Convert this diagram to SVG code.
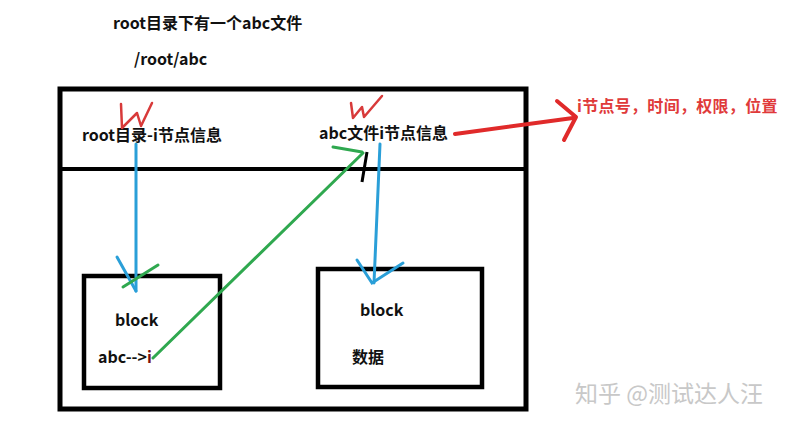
<svg xmlns="http://www.w3.org/2000/svg" width="789" height="426" viewBox="0 0 789 426">
<style>
.t{font-family:"Noto Sans CJK SC","Noto Sans",sans-serif;font-weight:bold;font-size:16px;fill:#111}
.box{fill:none;stroke:#000;stroke-width:5}
.blue{stroke:#2a9fd8;stroke-width:3;fill:none;stroke-linecap:round}
.green{stroke:#2fa84f;stroke-width:3;fill:none;stroke-linecap:round}
.red{stroke:#e02a2a;stroke-width:4;fill:none;stroke-linecap:round;stroke-linejoin:round}
.redthin{stroke:#d83a3a;stroke-width:2.5;fill:none;stroke-linecap:round;stroke-linejoin:round}
</style>
<rect width="789" height="426" fill="#fff"/>
<g id="title">
<text class="t" x="113" y="29">root目录下有一个abc文件</text>
<text class="t" x="134" y="65" font-size="17">/root/abc</text>
</g>
<g id="inode-area">
<rect class="box" x="60" y="89" width="466" height="320"/>
<line x1="60" y1="169" x2="526" y2="169" stroke="#000" stroke-width="4"/>
<text class="t" x="82" y="141" font-size="16.5">root目录-i节点信息</text>
<text class="t" x="319" y="139" font-size="16.5">abc文件i节点信息</text>
<path class="redthin" d="M121,104 L122,128 L137,113 L141,126 L152,103"/>
<path class="redthin" d="M351,103 L353,118 L362,107 L364,117 L382,96"/>
</g>
<g id="block1">
<rect x="84" y="276" width="136" height="112" fill="none" stroke="#000" stroke-width="4.5"/>
<text class="t" x="115" y="326" font-size="16.5">block</text>
<text class="t" x="98" y="363" font-size="16.5">abc--&gt;<tspan fill="#7a1010">i</tspan></text>
</g>
<g id="block2">
<rect x="318" y="269" width="164" height="118" fill="none" stroke="#000" stroke-width="4.5"/>
<text class="t" x="360" y="316" font-size="16.5">block</text>
<text class="t" x="352" y="363" font-size="16.5">数据</text>
</g>
<g id="note">
<text x="577" y="112" font-family="Noto Sans CJK SC,Noto Sans,sans-serif" font-weight="bold" font-size="16" letter-spacing="0.3" fill="#e03a3a">i节点号，时间，权限，位置</text>
</g>
<g id="connectors">
<path class="blue" d="M136,144 L136,291"/>
<path class="blue" d="M117,257 L136,291"/>
<path class="green" d="M123,287 L158,265"/>
<path class="green" d="M153,358 L363,153"/>
<path class="green" d="M333,147 L362,152"/>
<line x1="367" y1="152" x2="362" y2="182" stroke="#000" stroke-width="3"/>
<path class="blue" d="M380,144 L374,283"/>
<path class="blue" d="M357,260 L372,283 L403,263"/>
<path class="red" d="M455,134 L573,118"/>
<path class="red" d="M557,101 L576,117 L564,140"/>
</g>
<g id="watermark">
<text x="575" y="402" font-family="Noto Sans CJK SC,sans-serif" font-size="23" fill="#c8c8c8">知乎 @测试达人汪</text>
</g>
</svg>
